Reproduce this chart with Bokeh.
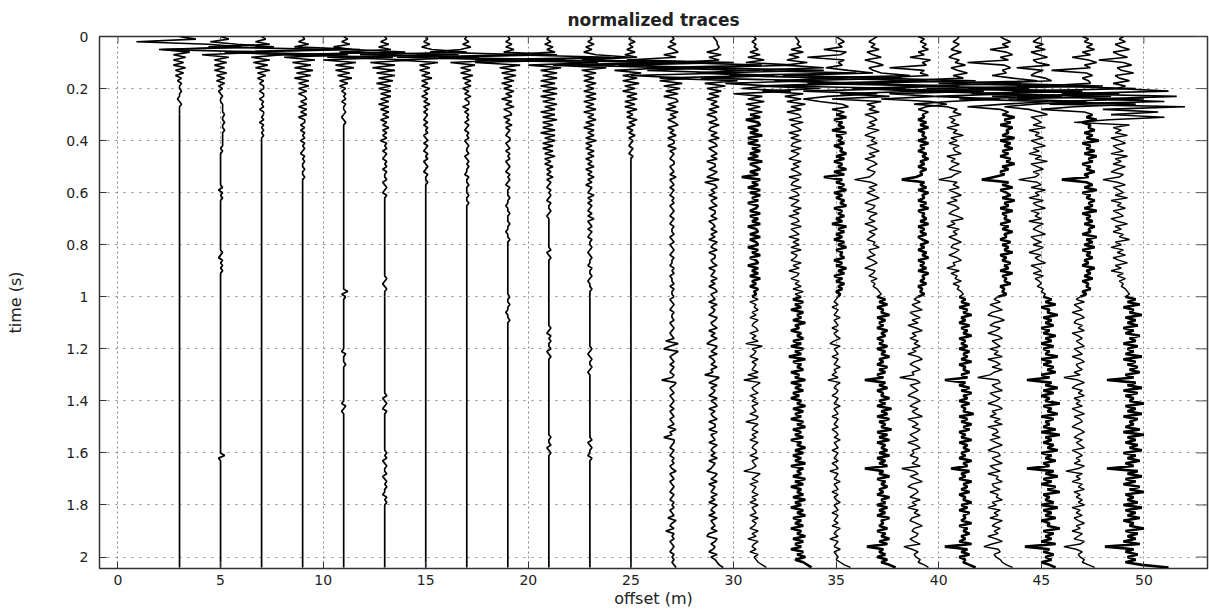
import numpy as np
from bokeh.plotting import figure
from bokeh.models import Range1d, FixedTicker, CustomJSTickFormatter
from bokeh.embed import file_html
from bokeh.resources import INLINE

# ---------------------------------------------------------------------------
# Shot gather: one trace every 2 m, samples every 10 ms from t = 0 to 2.04 s.
# Deflections are stored in tenths of a metre of offset (10 -> 1 m sideways).
# Traces that go quiet are padded with their zero baseline.
# ---------------------------------------------------------------------------
SAMPLE_DT = 0.01
N_SAMPLES = 205
DEFLECTION_UNIT = 0.1
ARRIVAL_END = 30           # first-arrival window ends near 0.3 s
SPLIT_INDEX = 100          # samples before / after 1.0 s are styled separately

offsets = [3, 5, 7, 9, 11, 13, 15, 17, 19, 21, 23, 25,
           27, 29, 31, 33, 35, 37, 39, 41, 43, 45, 47, 49]

# traces whose noise is dense (drawn heavier) in the early / late half
dense_early = [31, 35, 39, 43, 47]
dense_late = [33, 37, 41, 45, 49]

x_ticks = [0, 5, 10, 15, 20, 25, 30, 35, 40, 45, 50]
y_ticks = [0, 0.2, 0.4, 0.6, 0.8, 1.0, 1.2, 1.4, 1.6, 1.8, 2.0]

tr03 = [0, 8, -21, 14, 30, -9, 5, -3, 3, -3, 2, -3, 3, -2, 2, -2, 1, -1, 1, 0,
        0, 1, 0, 0, -1, 0, 1]

tr05 = ([0, 4, -5, 8, 26, -30, 22, -9, 4, -3, 3, -3, 2, -3, 3, -2, 2, -2, 2, -1,
         1, -1, 0, 1, 0, 0, 1, 1, 1, 1, 2, 1, 1, 2, 1, 1, 2, 1, 1, 1,
         1, 1, 1, 0, 1, 0] + [0] * 12 + [1, -1, 1, 0, 1] + [0] * 20
        + [1, 0, -1, 1, 0, 1, 0, 1] + [0] * 70 + [2, -1])

tr07 = [0, 2, -3, 4, -26, 34, -18, 10, -5, 4, -4, 3, -3, 4, -2, 2, -2, 1, -1, 1,
        1, -1, 1, 1, -1, 1, 0, 1, -1, 1, 1, 0, 1, -1, 1, 0, 1, 0, 1]

tr09 = [0, 1, -2, 3, -4, 28, -36, 22, -9, 6, -5, 4, -4, 5, -3, 4, -4, 3, -2, 3,
        -2, 2, -2, 1, 2, -1, 2, -2, 2, -1, 2, -2, 1, 1, -1, 1, -1, 1, 0, 1,
        -1, 1, 0, 1, 0, -1, 1, 0, 1, 0, 0, 1, 0, 0, 1]

tr11 = ([0, 2, -1, 3, -5, 4, 30, -34, 24, -10, 6, -4, 5, -4, 3, -3, 4, -2, 2, -2,
         1, -1, 1, 0, 1, -1, 1, 0, 0, 1, 0, -1, 0, 1] + [0] * 64 + [2, -1, 1]
        + [0] * 20 + [-1, 1, 0, 0, 0, 1] + [0] * 14 + [-1, 1, 0, -1])

tr13 = ([0, 1, -2, 2, -3, 3, -22, 36, -28, 14, -7, 5, -6, 5, -4, 5, -3, 4, -4, 3,
         -3, 3, -2, 3, -2, 2, -3, 2, -2, 2, -1, 2, -2, 1, -1, 2, -1, 1, -1, 1,
         -2, 1, 0, 1, -1, 1, 0, -1, 1, 0, 1, -1, 1, 0, 0, 1, -1, 0, 1, 0,
         -1, 1, 0] + [0] * 30 + [1, 0, -1, 0, 1] + [0] * 40
        + [1, -1, 0, 1, 0, -1, 1] + [0] * 15
        + [1, 0, 1, -1, 0, 1, 0, 0, 1, -1, 0, 1, 0, 1, 0, 0, -1, 1, 0, 1])

tr15 = [0, 1, -1, 2, -2, 3, 20, -32, 26, -14, 6, -3, 2, -3, 2, -2, 3, -2, 1, -2,
        2, -1, 1, -2, 1, -1, 2, -1, 1, -1, 1, 0, -1, 1, -1, 1, 0, 1, -1, 0,
        1, -1, 1, 0, -1, 1, 0, 1, -1, 0, 1, 0, -1, 1, 0, 0, 1, 0]

tr17 = [0, -1, 1, -2, 2, -3, -18, 30, -34, 20, -8, 4, -3, 2, -3, 3, -2, 2, -1, 2,
        -2, 1, -1, 2, -1, 1, 1, -2, 1, -1, 1, 0, 1, -1, 1, 0, -1, 1, 0, 1,
        -1, 0, 1, 0, 0, 1, -1, 0, 1, 0, 1, 0, 0, -1, 1, 0, 0, 1, 0, 0,
        0, 1, 0, 0, 1]

tr19 = ([0, 1, -1, 2, -1, 3, -2, 24, -34, 28, -16, 6, -4, 4, -3, 4, -2, 3, -3, 2,
         -2, 3, -1, 2, -3, 2, -1, 3, -2, 1, 2, -2, 1, -1, 2, -1, 1, 0, -1, 1,
         1, -1, 0, 1, -1, 1, 0, 1, -1, 0, 1, 0, -1, 1, 0, 1, 0, -1, 1, 0,
         0, 0, 1, 0, 0, -1, 0, 0, 1, 0, 0, 0, 1, 0, 0, -1, 0, 0, 1, 0]
        + [0] * 20 + [1, 0, 0, 1, 0, 0, -1, 0, 0, 1])

tr21 = ([0, -1, 1, -2, 2, -1, 3, -22, 30, -36, 24, -10, 6, -4, 4, -3, 4, -4, 3, -4,
         4, -3, 4, -4, 3, -3, 4, -2, 3, -4, 3, -3, 4, -3, 2, -3, 3, -4, 3, -2,
         3, -3, 2, -3, 2, -2, 3, -2, 1, -2, 2, -1, 1, -1, 2, -1, 1, 0, -1, 1,
         0, 1, 0, -1, 1, 0, 0, 1, 0, -1] + [0] * 12 + [1, -1, 0, 1, 0] + [0] * 25
        + [1, 0, -1, 1, 0, 1, 0, 0, 1, -1, 0, 1] + [0] * 30
        + [1, 0, 0, 1, -1, 0, 1, 0])

tr23 = ([0, 1, -1, 2, -2, 1, -3, 3, 20, -30, 34, -18, 8, -4, 3, -3, 2, -3, 3, -2,
         2, -3, 3, -2, 3, -3, 2, -2, 3, -3, 2, -1, 3, -2, 2, -3, 2, -1, 2, -2,
         3, -2, 1, -2, 2, -1, 2, -2, 1, -1, 2, -2, 1, -1, 2, -1, 1, -2, 1, 0,
         -1, 2, -1, 1, -1, 1, 0, -1, 1, -1, 2, -1, 0, 1, -1, 1, 0, -1, 1, 0]
        + [0, 1, 0, -1, 0, 1, 0, 0, -1, 1, 0, 0, 1, 0, -1, 0, 0, 1, 0, 0]
        + [0] * 20 + [1, 0, -1, 0, 1, 0, 0, 1, 0, -1] + [0] * 25
        + [1, -1, 0, 1, 0, 0, -1, 1])

tr25 = [0, -1, 2, -1, 1, -2, 2, -3, 3, -24, 32, -26, 18, -8, 5, -4, 3, -4, 4, -3,
        2, -4, 3, -2, 3, -3, 2, -3, 3, -2, 1, -2, 3, -1, 2, -2, 1, -1, 2, -1,
        1, 0, -1, 1, 0, -1, 1, 0]

tr27 = [0, 1, -1, 2, -2, 1, 3, -4, 2, -22, 30, -26, 18, -12, 28, -20, 8, -6, 5, -4,
        4, -3, 3, -4, 2, 3, -2, 2, -3, 3, -1, 2, -2, 1, 3, -2, 1, -1, 2, -2,
        1, 1, -2, 2, -1, 1, 0, -1, 1, 1, -1, 0, 1, -1, 2, -1, 0, 1, -1, 1,
        0, -1, 1, 0, 1, -1, 0, 1, 0, -1, 1, 0, -1, 1, 0, 0, 1, -1, 0, 1,
        -1, 0, 1, 0, -1, 1, 0, 0, -1, 1, 0, 1, -1, 0, 0, 1, -1, 1, 0, 0,
        1, -1, 0, 1, 0, -1, 1, 0, 0, 1, -1, 0, 1, 0, -1, 0, 1, -3, 3, -1,
        -4, 3, 1, -1, 0, 1, -1, 1, 0, -1, 1, 0, -5, 2, 1, -1, 0, 1, -1, 0,
        1, 0, -1, 1, -1, 0, 1, -1, 0, 1, -2, 2, -1, 0, -4, 1, 1, 0, -1, 1,
        0, -1, 1, 0, 1, -1, 0, 2, -1, 0, 1, -1, 0, 1, 0, -1, 1, 0, -1, 1,
        0, 1, -1, 0, 1, -2, 2, 0, -1, 1, -3, 1, 0, 1, -1, 0, 1, 0, -1, 1,
        0, 1, 0, 1, 2]

tr29 = [0, 1, 2, 2, 3, 2, -3, 4, -2, 3, -18, 24, -30, 16, -8, 22, -26, 12, -4, 6,
        -3, 4, -2, 3, -3, 2, -1, 3, -2, 2, -3, 1, 2, -2, 3, -1, -2, 2, -1, 3,
        -2, 1, 2, -2, 0, 2, -1, 2, -3, 1, 1, -2, 2, 0, -3, 3, -4, 1, 2, -1,
        1, -2, 2, -1, 0, 2, -2, 1, 1, -1, 2, -2, 0, 1, -1, 2, -1, 1, -2, 2,
        0, -1, 2, -2, 1, 1, -1, 0, 2, -2, 1, 0, -1, 2, -1, 1, -2, 1, 2, -1,
        0, 1, -2, 2, -1, 1, 0, -2, 2, 1, -1, 0, 2, -2, 1, -1, 2, -1, -3, 2,
        1, -1, 2, -2, 0, 1, -1, 2, -1, 0, -4, 3, 1, -2, 2, -1, 1, 0, -2, 2,
        -1, 1, 2, -2, 1, -1, 0, 2, -2, 1, 1, -2, 2, -1, 0, 1, -2, 2, 0, -1,
        1, -1, 2, -2, 1, 0, -1, -3, 2, 1, -1, 2, -2, 1, 0, -1, 2, -1, 1, -2,
        2, 0, -1, 1, -2, 2, -1, 0, 1, -1, 2, -2, -3, 2, 1, -1, 1, 0, -2, 2,
        -1, 1, 2, 3, 5]

tr31 = [0, 1, -1, 1, 0, 2, -2, 3, -3, 5, -4, 20, -28, 34, -22, 10, -26, 30, -14, 8,
        -6, 18, -10, 4, -3, 5, -4, 3, -3, 4, -2, 3, -4, 2, 3, -3, 2, -2, 4, -3,
        2, -3, 3, -1, 3, -2, 2, -3, 4, -2, 1, 3, -2, 2, -6, 3, -1, 2, -3, 3,
        -2, 3, -1, 2, -3, 2, 1, -2, 3, -2, 2, -1, 3, -3, 1, 2, -2, 3, -2, 1,
        2, -3, 2, -1, 3, -2, 1, 2, -3, 2, -1, 2, -2, 3, -1, 1, -2, 2, 0, 1,
        -1, 2, -2, 1, 0, 2, -1, 1, -2, 2, 0, -1, 1, 2, -2, 1, -1, 2, -4, 4,
        -1, 1, 0, -2, 2, -1, 1, 0, -1, 2, -3, 2, -5, 3, 1, -1, 0, 2, -2, 1,
        -1, 2, -1, 0, 1, -2, 2, 1, -4, 2, 0, -1, 2, -1, 1, -2, 2, 0, -1, 1,
        1, -2, 2, -1, 0, 1, -1, -5, 3, 1, -1, 2, -2, 1, 0, -1, 2, -1, 1, -2,
        2, -1, 0, 1, -2, 2, -1, 1, 0, -2, 2, -1, 1, -3, 2, 0, -1, 1, -2, 2,
        0, 1, 2, 4, 6]

tr33 = [0, 1, 2, 1, 3, -2, 4, -3, 2, -4, 6, -5, 14, -24, 30, -32, 20, -10, 26, -18,
        12, -16, 4, -5, 3, -4, 5, -2, 3, -4, 2, 3, -3, 4, -2, 1, 3, -3, 2, -2,
        3, -1, -2, 3, -2, 2, 0, -3, 3, -1, 2, -2, 1, 3, -3, 2, -1, -2, 3, -2,
        1, 2, -3, 2, 0, -2, 3, -1, 2, -3, 1, 2, -2, 3, -2, 0, 2, -3, 2, -1,
        2, -2, 3, -2, 1, 0, -2, 3, -1, 2, -3, 2, 1, -2, 2, 0, 3, -1, 4, 0,
        3, -1, 4, 0, 3, -2, 4, 1, 3, -1, 5, 0, 2, -2, 3, 1, 4, -1, 3, -2,
        4, 0, 3, -3, 5, -1, 3, 1, 4, -2, 2, 0, 5, -2, 3, 0, 4, -1, 2, -2,
        3, 1, 5, -1, 4, 0, 3, -2, 4, 1, 5, -1, 3, 0, 4, -2, 3, 1, 5, 0,
        4, -1, 3, 0, 5, -2, 4, 1, 3, -1, 5, 0, 4, -2, 3, 1, 4, -1, 5, 0,
        3, -2, 4, 1, 5, -1, 3, 0, 4, -2, 3, 1, 5, -1, 4, 0, 3, -2, 4, 1,
        5, 0, 4, 6, 8]

tr35 = [0, 2, 4, 1, 3, -6, 5, 2, -14, 4, 1, 3, -5, 6, 18, -26, 32, -20, 10, -28,
        34, -16, 20, -4, -16, -8, 3, 6, -2, 4, 0, 5, -1, 3, 1, 4, -2, 5, 0, 3,
        1, 4, -1, 3, 2, 5, 0, 4, -1, 3, 1, 5, -1, 4, -6, 3, 0, 4, 1, 5,
        -1, 3, 0, 4, 2, 5, -1, 3, 1, 4, 0, 3, -2, 5, 1, 4, 0, 3, -1, 4,
        1, 5, 0, 3, 2, 4, -1, 3, 0, 5, 1, 4, -1, 3, 0, 4, 1, 3, 0, 2,
        1, 0, -1, 1, -2, 1, 0, -1, 2, -1, 0, 1, -2, 1, -1, 0, 2, -1, -3, 2,
        -1, 0, 1, -2, 1, 0, -1, 2, -1, 0, -2, 1, -4, 2, 0, -1, 1, 0, -2, 1,
        0, -1, 2, -1, 0, 1, -2, 1, 0, -1, 1, -2, 0, 1, -1, 2, -1, 0, 1, -2,
        1, 0, -1, 1, -2, 0, 1, -3, 1, 0, -1, 2, -1, 0, 1, -2, 1, -1, 0, 2,
        -1, 0, 1, -2, 1, 0, -1, 1, -2, 2, 0, -1, 1, -3, 1, 0, -1, 2, -1, 0,
        1, 0, 2, 4, 7]

tr37 = [0, -2, -4, -1, -3, 1, -5, -2, 2, -6, -1, 3, -4, -2, 2, 16, -30, 24, -34, 28,
        -12, 22, -18, 6, -22, 2, -5, -1, -4, 1, -6, -2, 0, -4, -1, -5, 1, -3, -6, -1,
        -3, 0, -5, -2, 1, -4, -1, -6, -2, 0, -3, -5, -1, -2, -4, -11, -3, 0, -4, -1,
        -5, -2, 1, -3, -6, -1, -2, -5, 0, -3, -4, -1, -6, -2, 0, -4, -1, -3, -5, -1,
        -2, 1, -4, -3, -1, -5, -2, 0, -3, -6, -1, -2, -4, 0, -3, -1, -2, 0, 1, 2,
        0, 4, 1, 5, 0, 3, 2, 6, 0, 4, 1, 3, 0, 5, 2, 4, 0, 3, 1, 5,
        0, 4, 2, 6, 1, 3, 0, 5, 1, 4, 0, 3, -6, 4, 1, 5, 0, 3, 2, 6,
        1, 4, 0, 7, 2, 5, 0, 6, 1, 4, 2, 7, 0, 5, 1, 6, 0, 4, 2, 5,
        1, 6, 0, 4, 1, 5, -6, 3, 1, 6, 0, 4, 2, 5, 1, 3, 0, 6, 2, 4,
        0, 5, 1, 4, 0, 6, 2, 3, 1, 5, 0, 4, 2, 6, 1, 5, -5, 3, 1, 4,
        0, 5, 2, 6, 9]

tr39 = [0, 3, 1, 4, 2, 5, 0, 3, -4, 6, 2, 4, -14, 3, 1, 5, -22, 28, -34, 20,
        -26, 32, -14, 8, -18, 6, 14, 4, 0, 5, 2, 3, 0, 4, 1, 5, 0, 3, 2, 4,
        0, 5, 1, 3, 0, 4, 2, 5, 1, 3, 0, 4, 1, 2, -1, -8, 3, 1, 4, 0,
        5, 2, 3, 0, 4, 1, 5, 0, 3, 2, 4, 1, 5, 0, 3, 1, 4, 0, 2, 5,
        1, 3, 0, 4, 2, 5, 0, 3, 1, 4, 0, 5, 2, 3, 1, 4, 0, 2, 1, 3,
        0, -2, 1, -3, -1, 2, -4, -2, 1, -3, 0, -5, -1, 2, -3, -1, -4, 0, -2, 1,
        -3, -1, -5, 0, 2, -2, -4, -1, 1, -3, -2, -9, -1, 1, -4, -2, 0, -3, -5, -1,
        1, -2, -4, 0, -3, -1, 2, -5, -2, 0, -3, 1, -1, -4, -2, 0, -5, -1, 1, -3,
        -2, -4, 0, -1, -3, 1, -8, -2, 0, -4, -1, 2, -3, -5, -1, 0, -2, -4, 1, -3,
        -1, -5, 0, -2, 1, -3, -4, -1, 2, -2, -3, 0, -1, -4, -2, 1, -7, -3, 0, -2,
        -1, 1, 0, 3, 5]

tr41 = [0, -1, -3, 0, -2, -4, 1, -3, -5, 0, -2, 3, -4, -1, 4, -3, 2, -28, 30, -20,
        34, -24, 26, -12, 20, -5, -22, -6, -1, -3, 1, -5, -2, -4, 0, -6, -1, -3, 2, -4,
        -1, -5, 0, -3, -2, 1, -6, -2, -4, 0, -3, -5, 1, -2, -4, -10, -1, -3, 0, -5,
        -2, 1, -4, -1, -6, -2, 0, -3, -5, -1, 2, -4, -2, -6, 0, -3, -1, -5, -2, 1,
        -3, -4, 0, -2, -5, -1, 1, -3, -2, -6, 0, -4, -1, -2, 1, -3, 0, -1, 1, 2,
        0, 3, 1, 5, 0, 4, 2, 6, 1, 3, 0, 5, 1, 4, 2, 6, 0, 3, 1, 4,
        0, 5, 2, 4, 1, 6, 0, 3, 2, 5, 1, 4, -7, 3, 0, 5, 1, 6, 2, 4,
        0, 5, 1, 3, 2, 7, 0, 4, 1, 6, 2, 5, 0, 3, 1, 6, 0, 4, 2, 5,
        1, 3, 0, 6, 2, 4, -4, 5, 1, 3, 0, 6, 2, 4, 1, 5, 0, 3, 2, 6,
        1, 4, 0, 5, 2, 3, 1, 6, 0, 4, 2, 5, 1, 3, 0, 6, -7, 4, 1, 5,
        0, 3, 2, 5, 8]

tr43 = [0, 2, 5, 1, 4, -5, 3, 6, 0, 4, -16, 2, 5, 1, 3, -4, 6, 18, -30, 26,
        -36, 22, -14, 30, -20, 24, 2, -16, 0, 4, 1, 7, 2, 5, 0, 6, 3, 4, 1, 7,
        0, 5, 2, 6, 1, 4, 0, 5, 3, 7, 1, 4, 0, 2, -3, -9, 4, 1, 6, 0,
        3, 5, 1, 7, 2, 4, 0, 6, 1, 3, 2, 5, 0, 4, 1, 6, 2, 3, 0, 5,
        1, 4, 2, 6, 0, 3, 1, 5, 2, 4, 0, 6, 1, 3, 2, 5, 0, 2, 1, 3,
        -1, -3, 0, -5, -2, 1, -4, -6, -1, 2, -3, -5, 0, -2, -6, -1, 1, -4, -2, 0,
        -5, -1, -3, 1, -6, -2, 0, -4, 1, -3, -5, -11, -1, 0, -4, -2, 1, -5, -3, 0,
        -2, -6, -1, 1, -4, -2, -5, 0, -3, 1, -6, -2, -1, -4, 0, -5, -2, 1, -3, -6,
        -1, 0, -4, -2, 1, -5, -3, 0, -6, -1, -2, 1, -4, -3, 0, -5, -1, -2, 1, -4,
        -2, -6, 0, -3, -1, -5, 1, -2, -4, 0, -3, -1, -6, -2, 1, -4, -8, -1, 0, -3,
        -2, 0, 1, 3, 6]

tr45 = [0, -2, -4, 1, -3, 2, -5, -1, 3, -4, -2, 4, -12, 1, -3, -5, 2, 5, -24, 30,
        -36, 20, -28, 34, -16, 22, -4, -18, -6, -1, 3, -5, -2, 0, -4, 2, -6, -1, -3, 1,
        -5, -2, 2, -4, -1, -6, 0, -3, 3, -5, -2, 1, -4, -1, -3, -11, -2, 0, -5, 2,
        -3, -1, -6, 1, -4, -2, 2, -5, -1, -3, 0, -6, 1, -2, -4, -1, 2, -5, -3, 0,
        -4, 1, -2, -6, 0, -3, -1, 2, -5, -2, 0, -4, 1, -3, -1, 0, -2, 1, 0, 2,
        1, 5, 2, 7, 0, 4, 3, 8, 1, 5, 2, 6, 0, 4, 1, 7, 2, 5, 0, 6,
        1, 4, 2, 8, 0, 5, 1, 6, 3, 7, 0, 4, -7, 5, 2, 8, 1, 6, 0, 4,
        2, 9, 1, 5, 3, 8, 0, 6, 2, 4, 1, 7, 0, 9, 2, 5, 1, 6, 3, 8,
        0, 5, 2, 7, 1, 4, -7, 6, 2, 8, 1, 5, 0, 7, 3, 9, 1, 4, 2, 6,
        0, 8, 1, 5, 2, 7, 0, 4, 3, 9, 1, 6, 2, 5, 0, 7, -8, 4, 1, 6,
        2, 5, 0, 4, 7]

tr47 = [0, 3, 1, 5, 2, 6, 0, 4, -5, 3, 7, 1, 4, -15, 2, 5, 0, 3, 4, -20,
        26, -34, 18, -44, 30, -16, 26, -4, -20, 1, 5, 2, 7, 0, 4, 3, 6, 1, 5, 2,
        8, 0, 4, 2, 6, 1, 7, 3, 5, 0, 4, 2, 6, 1, 3, -10, 2, 5, 1, 7,
        0, 4, 2, 6, 3, 5, 1, 7, 0, 4, 2, 5, 1, 6, 3, 4, 0, 7, 2, 5,
        1, 6, 0, 4, 2, 5, 1, 3, 0, 6, 2, 4, 1, 5, 0, 3, 2, 4, 0, 2,
        -1, -3, 1, -4, -2, 0, -5, -1, 1, -3, -4, 0, -2, 1, -5, -2, 0, -3, -1, 1,
        -4, -2, 0, -5, -1, 1, -3, -2, 0, -4, -1, -9, -2, 1, -3, -5, 0, -2, 1, -4,
        -1, -3, 0, -5, -2, 1, -4, -1, 0, -3, -5, -1, 1, -2, -4, 0, -3, -1, 1, -5,
        -2, 0, -3, -1, -4, 1, -2, -8, 0, -3, -1, -5, 0, -2, 1, -4, -1, -3, 0, -2,
        1, -5, -1, -3, 0, -4, -2, 1, -3, -1, -5, 0, -2, -4, 1, -1, -9, -3, 0, -2,
        -1, 1, 0, 3, 6]

tr49 = [0, -2, 1, -4, -1, 3, -5, -2, 2, -12, 0, 4, -3, -1, 5, -4, -2, 3, -5, 1,
        -3, 22, -30, 26, -14, 20, -36, 30, -10, 17, -6, 20, -7, -24, 3, -5, -1, -4, 2, -6,
        -2, 1, -5, -3, 0, -6, 2, -4, -1, -5, 1, -3, -6, 0, -2, -10, -3, 1, -5, -2,
        0, -4, 2, -6, -1, -3, 1, -5, -2, 0, -6, -3, 2, -4, -1, -5, 0, -2, 3, -4,
        -1, -6, 0, -3, 1, -5, -2, 2, -4, -1, -6, 0, -3, 1, -2, 0, -1, 1, 2, 3,
        1, 6, 2, 8, 0, 5, 3, 9, 1, 6, 2, 7, 0, 5, 1, 8, 3, 6, 0, 7,
        2, 5, 1, 9, 0, 6, 2, 7, 3, 8, 1, 5, -8, 6, 2, 9, 0, 7, 1, 5,
        3, 10, 1, 6, 2, 9, 0, 7, 3, 5, 1, 8, 0, 10, 2, 6, 1, 7, 3, 9,
        0, 6, 2, 8, 1, 5, -8, 7, 2, 9, 1, 6, 0, 8, 3, 10, 1, 5, 2, 7,
        0, 9, 1, 6, 2, 8, 0, 5, 3, 10, 1, 7, 2, 6, 0, 8, -9, 5, 1, 7,
        2, 6, 1, 9, 22]

traces = [tr03, tr05, tr07, tr09, tr11, tr13, tr15, tr17, tr19, tr21, tr23, tr25,
          tr27, tr29, tr31, tr33, tr35, tr37, tr39, tr41, tr43, tr45, tr47, tr49]

# ---------------------------------------------------------------------------
FONT = "DejaVu Sans"
INK = "#222222"
X_LO, X_HI = -0.9, 53.1
T_TOP, T_BOTTOM = 0.0, 2.044
PLOT_W, PLOT_H = 1209, 610
BORDER = dict(left=99, right=2, top=35, bottom=41)
FRAME_W = PLOT_W - BORDER["left"] - BORDER["right"]
FRAME_H = PLOT_H - BORDER["top"] - BORDER["bottom"]

p = figure(width=PLOT_W, height=PLOT_H, output_backend="svg", toolbar_location=None,
           x_range=Range1d(X_LO, X_HI), y_range=Range1d(T_BOTTOM, T_TOP),
           min_border_left=BORDER["left"], min_border_right=BORDER["right"],
           min_border_top=BORDER["top"], min_border_bottom=BORDER["bottom"],
           background_fill_color="white", border_fill_color="white")

p.title.text = "normalized traces"
p.title.align = "center"
p.title.text_font = FONT
p.title.text_font_size = "17px"
p.title.text_font_style = "bold"
p.title.text_color = INK
p.title.standoff = 14

p.outline_line_color = "#333333"
p.outline_line_width = 1.5

# grid (dotted, as in the classic MATLAB look)
p.xgrid.ticker = FixedTicker(ticks=x_ticks)
p.ygrid.ticker = FixedTicker(ticks=y_ticks)
p.xgrid.grid_line_color = "#8a8a8a"
p.ygrid.grid_line_color = "#8a8a8a"
p.xgrid.grid_line_dash = "2 3"
p.ygrid.grid_line_dash = "2 6"

# wiggle traces: first-arrival window, rest of the early half, late half
sample_times = np.arange(N_SAMPLES) * SAMPLE_DT
for off, tr in zip(offsets, traces):
    d = np.zeros(N_SAMPLES)
    vals = np.asarray(tr[:N_SAMPLES], dtype=float)
    d[:len(vals)] = vals
    x = off + DEFLECTION_UNIT * d
    near = off <= 29
    w_base = 1.7 if near else 1.4
    w_early = 2.6 if off in dense_early else w_base
    w_late = 2.6 if off in dense_late else w_base
    pieces = [(0, ARRIVAL_END, 1.6),
              (ARRIVAL_END, SPLIT_INDEX, w_early),
              (SPLIT_INDEX, N_SAMPLES - 1, w_late)]
    for i0, i1, w in pieces:
        p.line(x[i0:i1 + 1], sample_times[i0:i1 + 1], line_color="black", line_width=w)

# axes with inward ticks
for ax in (p.xaxis[0], p.yaxis[0]):
    ax.major_tick_in = 7
    ax.major_tick_out = 0
    ax.minor_tick_line_color = None
    ax.axis_line_color = "#333333"
    ax.major_tick_line_color = "#333333"
    ax.major_label_text_font = FONT
    ax.major_label_text_font_size = "14px"
    ax.major_label_text_color = INK
    ax.axis_label_text_font = FONT
    ax.axis_label_text_font_size = "16px"
    ax.axis_label_text_font_style = "normal"
    ax.axis_label_text_color = INK

p.xaxis.ticker = FixedTicker(ticks=x_ticks)
p.yaxis.ticker = FixedTicker(ticks=y_ticks)
p.yaxis.formatter = CustomJSTickFormatter(code="return Number(tick.toFixed(1)).toString();")
p.xaxis.axis_label = "offset (m)"
p.yaxis.axis_label = "time (s)"
p.xaxis.major_label_standoff = 6
p.xaxis.axis_label_standoff = 1
p.yaxis.major_label_standoff = 11
p.yaxis.axis_label_standoff = 38

# mirrored tick marks along the right and top edges of the box
dx_tick = 11 * (X_HI - X_LO) / FRAME_W
dt_tick = 7 * (T_BOTTOM - T_TOP) / FRAME_H
p.segment(x0=[X_HI - dx_tick] * len(y_ticks), y0=y_ticks,
          x1=[X_HI] * len(y_ticks), y1=y_ticks, line_color="#555555", line_width=1)
p.segment(x0=x_ticks, y0=[T_TOP] * len(x_ticks),
          x1=x_ticks, y1=[T_TOP + dt_tick] * len(x_ticks), line_color="#555555", line_width=1)

open("out.html", "w").write(file_html(p, INLINE))
